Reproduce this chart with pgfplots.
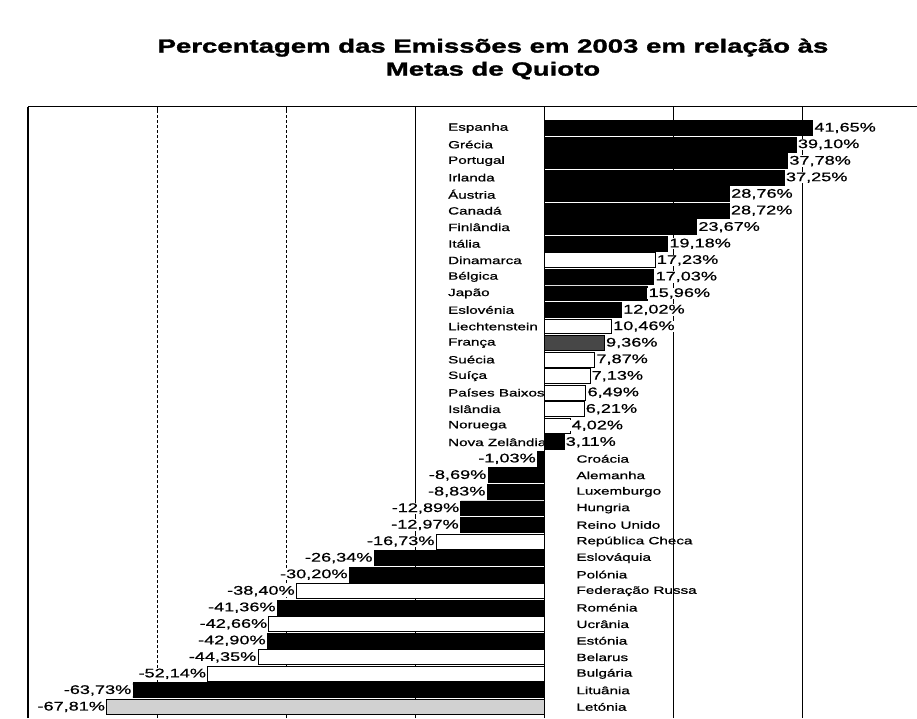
\documentclass[border=0pt]{standalone}
\usepackage{fontspec}
\setmainfont{Liberation Sans}[FakeStretch=1.45]
\newfontfamily\heavyfont{Liberation Sans Bold}[FakeStretch=1.45, FakeBold=1.6]
\newfontfamily\labfont{Liberation Sans}[FakeStretch=1.45, FakeBold=0.8]
\usepackage{pgfplots}
\usepackage{pgfplotstable}
\pgfplotsset{compat=1.18}

% y = -row index (row 0 at top)
\pgfplotstableread[col sep=comma]{
y,x
0,41.65
-1,39.10
-2,37.78
-3,37.25
-4,28.76
-5,28.72
-6,23.67
-7,19.18
-9,17.03
-10,15.96
-11,12.02
-19,3.11
-20,-1.03
-21,-8.69
-22,-8.83
-23,-12.89
-24,-12.97
-26,-26.34
-27,-30.20
-29,-41.36
-31,-42.90
-34,-63.73
}\blackdata

\pgfplotstableread[col sep=comma]{
y,x
-8,17.23
-12,10.46
-14,7.87
-15,7.13
-16,6.49
-17,6.21
-18,4.02
-25,-16.73
-28,-38.40
-30,-42.66
-32,-44.35
-33,-52.14
}\whitedata

\pgfplotstableread[col sep=comma]{
y,x
-13,9.36
}\patAdata

\pgfplotstableread[col sep=comma]{
y,x
-35,-67.81
}\patBdata

\pgfplotstableread[col sep=comma]{
y,lx,name
0,-14.9,Espanha
-1,-14.9,Grécia
-2,-14.9,Portugal
-3,-14.9,Irlanda
-4,-14.9,Áustria
-5,-14.9,Canadá
-6,-14.9,Finlândia
-7,-14.9,Itália
-8,-14.9,Dinamarca
-9,-14.9,Bélgica
-10,-14.9,Japão
-11,-14.9,Eslovénia
-12,-14.9,Liechtenstein
-13,-14.9,França
-14,-14.9,Suécia
-15,-14.9,Suíça
-16,-14.9,Países Baixos
-17,-14.9,Islândia
-18,-14.9,Noruega
-19,-14.9,Nova Zelândia
-20,5,Croácia
-21,5,Alemanha
-22,5,Luxemburgo
-23,5,Hungria
-24,5,Reino Unido
-25,5,República Checa
-26,5,Eslováquia
-27,5,Polónia
-28,5,Federação Russa
-29,5,Roménia
-30,5,Ucrânia
-31,5,Estónia
-32,5,Belarus
-33,5,Bulgária
-34,5,Lituânia
-35,5,Letónia
}\labeldata

\begin{document}
\begin{tikzpicture}
\begin{axis}[
  at={(0,0)}, anchor=south west,
  scale only axis, width=916pt, height=611pt,
  xmin=-80, xmax=62,
  ymin=-35.67, ymax=1.27,
  axis x line*=top, axis y line*=left,
  xtick={-20,0,20,40}, xticklabels={},
  extra x ticks={-60,-40}, extra x tick labels={},
  extra x tick style={grid style={densely dashed, line width=0.6pt, black}},
  ytick=\empty,
  xmajorgrids, grid style={black, line width=0.6pt},
  tick align=inside, major tick length=4pt,
  tick style={black, line width=0.8pt},
  x axis line style={line width=1pt},
  y axis line style={line width=2.2pt},
  clip=false,
  valstyle/.style={
    xbar, bar shift=0pt, bar width=0.9, line width=0.9pt, draw=black,
    point meta=x,
    nodes near coords={\pgfmathprintnumber[fixed,fixed zerofill,precision=2,use comma,assume math mode=true]{\pgfplotspointmeta}\%},
    nodes near coords align={horizontal},
    every node near coord/.append style={font=\labfont\fontsize{12.5}{14}\selectfont, fill=white, inner xsep=1.2pt, inner ysep=0.5pt, text=black},
  },
]
% category labels
\addplot[only marks, mark=*, mark size=0pt, draw=none, fill=none,
  point meta=explicit symbolic, nodes near coords,
  every node near coord/.append style={anchor=west, inner sep=0pt, font=\labfont\fontsize{10.5}{12}\selectfont, text=black}]
  table[x=lx, y=y, meta=name]{\labeldata};
% bars
\addplot[valstyle, fill=black] table[x=x, y=y]{\blackdata};
\addplot[valstyle, fill=white] table[x=x, y=y]{\whitedata};
\addplot[valstyle, fill=black!72] table[x=x, y=y]{\patAdata};
\addplot[valstyle, fill=black!18] table[x=x, y=y]{\patBdata};
\end{axis}
\node[align=center, font=\heavyfont\fontsize{19}{23}\selectfont, inner sep=0pt] at (465pt,659pt)
  {Percentagem das Emissões em 2003 em relação às\\Metas de Quioto};
\pgfresetboundingbox
\path (-28pt,0pt) rectangle (889pt,718pt);
\end{tikzpicture}
\end{document}
